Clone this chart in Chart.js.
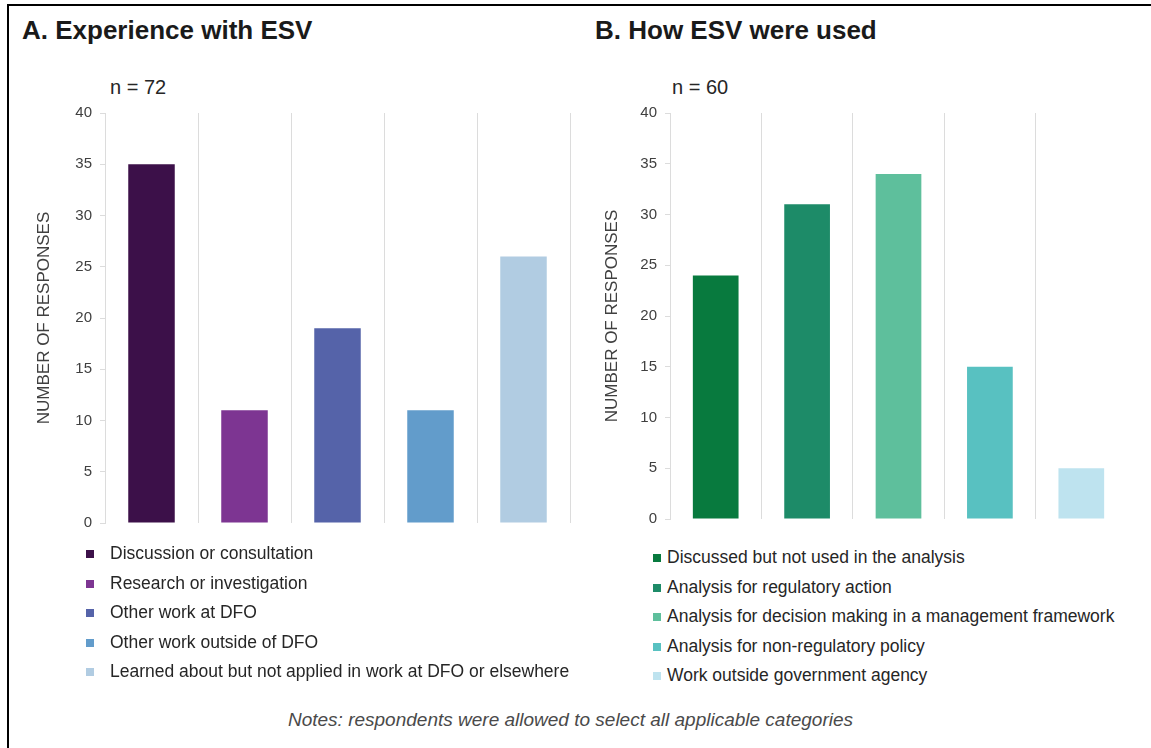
<!DOCTYPE html>
<html>
<head>
<meta charset="utf-8">
<script src="https://cdn.jsdelivr.net/npm/chart.js@4"></script>
<style>
    body { margin: 0; background: #fff; font-family: 'Liberation Sans', Arial, sans-serif; }
    .page { position: relative; width: 1151px; height: 748px; overflow: hidden; background: #fff; }
    .frame-top { position: absolute; left: 7px; top: 4px; width: 1144px; height: 2px; background: #000; }
    .frame-left { position: absolute; left: 7px; top: 4px; width: 2px; height: 744px; background: #000; }
    .title { position: absolute; font-weight: bold; font-size: 26px; color: #1a1a1a; line-height: 30px; white-space: nowrap; }
    .n-label { position: absolute; font-size: 20px; color: #262626; line-height: 22px; }
    .chart-box { position: absolute; }
    .legend { position: absolute; font-size: 17.5px; color: #262626; }
    .legend div { position: relative; height: 29.6px; line-height: 29.6px; white-space: nowrap; }
    .legend span.box { position: absolute; top: 11px; width: 8px; height: 8px; }
    .note { position: absolute; left: 0; width: 1141px; top: 708px; line-height: 24px; text-align: center; font-style: italic; font-size: 19px; color: #4a4a4a; }
</style>
</head>
<body>
<div class="page">
    <div class="frame-top"></div>
    <div class="frame-left"></div>

    <div class="title" style="left: 22px; top: 15px;">A. Experience with ESV</div>
    <div class="title" style="left: 595px; top: 15px;">B. How ESV were used</div>

    <div class="n-label" style="left: 110px; top: 76px;">n = 72</div>
    <div class="n-label" style="left: 672px; top: 76px;">n = 60</div>

    <div class="chart-box" style="left: 32px; top: 96px; width: 545px; height: 444px;">
        <canvas id="chartA"></canvas>
    </div>
    <div class="chart-box" style="left: 600px; top: 96px; width: 535px; height: 444px;">
        <canvas id="chartB"></canvas>
    </div>

    <div class="legend" id="legendA" style="left: 86px; top: 539px;"></div>
    <div class="legend" id="legendB" style="left: 653px; top: 543px;"></div>

    <div class="note">Notes: respondents were allowed to select all applicable categories</div>
</div>

<script>
// Panel A - experience with ESV
const expCategories = [
    'Discussion or consultation',
    'Research or investigation',
    'Other work at DFO',
    'Other work outside of DFO',
    'Learned about but not applied in work at DFO or elsewhere'
];
const expValues = [35, 11, 19, 11, 26];
const expColors = ['#3c1049', '#7d3592', '#5563a9', '#629ccb', '#b1cce2'];

// Panel B - how ESV were used
const useCategories = [
    'Discussed but not used in the analysis',
    'Analysis for regulatory action',
    'Analysis for decision making in a management framework',
    'Analysis for non-regulatory policy',
    'Work outside government agency'
];
const useValues = [24, 31, 34, 15, 5];
const useColors = ['#087a3e', '#1d8b68', '#5ebf9c', '#58c1c1', '#bee3ef'];

const yTicks = [0, 5, 10, 15, 20, 25, 30, 35, 40];

const fontFamily = "'Liberation Sans', Arial, sans-serif";
const gridColor = '#dcdcdc';

function makeChart(canvasId, labels, values, colors, axisWidth, padding, lastLine) {
    const ctx = document.getElementById(canvasId).getContext('2d');
    return new Chart(ctx, {
        type: 'bar',
        data: {
            labels: labels,
            datasets: [{
                data: values,
                backgroundColor: colors,
                borderWidth: 0,
                barPercentage: 0.5,
                categoryPercentage: 1
            }]
        },
        options: {
            responsive: true,
            maintainAspectRatio: false,
            animation: false,
            layout: { padding: padding },
            plugins: {
                legend: { display: false },
                tooltip: { enabled: false }
            },
            scales: {
                x: {
                    offset: true,
                    ticks: { display: false },
                    border: { display: false },
                    grid: {
                        offset: true,
                        drawTicks: false,
                        lineWidth: 1,
                        // the extra closing line has no tick index
                        color: (c) => (c.type !== 'tick' && !lastLine) ? 'rgba(0,0,0,0)' : gridColor
                    }
                },
                y: {
                    min: yTicks[0],
                    max: yTicks[yTicks.length - 1],
                    afterFit: (scale) => { scale.width = axisWidth; },
                    afterBuildTicks: (scale) => { scale.ticks = yTicks.map(v => ({ value: v })); },
                    ticks: {
                        padding: 8,
                        color: '#404040',
                        font: { family: fontFamily, size: 15 }
                    },
                    border: { display: true, color: gridColor },
                    grid: {
                        drawOnChartArea: false,
                        drawTicks: true,
                        tickLength: 5,
                        color: gridColor
                    },
                    title: {
                        display: true,
                        text: 'NUMBER OF RESPONSES',
                        color: '#404040',
                        padding: { top: 2, bottom: 0 },
                        font: { family: fontFamily, size: 17 }
                    }
                }
            }
        }
    });
}

function makeLegend(id, labels, colors, gap) {
    const box = document.getElementById(id);
    labels.forEach((label, i) => {
        const row = document.createElement('div');
        const sq = document.createElement('span');
        sq.className = 'box';
        sq.style.background = colors[i];
        row.appendChild(sq);
        const txt = document.createElement('span');
        txt.textContent = label;
        txt.style.marginLeft = gap + 'px';
        row.appendChild(txt);
        box.appendChild(row);
    });
}

makeChart('chartA', expCategories, expValues, expColors, 73, { top: 9, right: 7, bottom: 17, left: 0 }, true);
makeChart('chartB', useCategories, useValues, useColors, 70, { top: 9, right: 8, bottom: 21, left: 0 }, false);

makeLegend('legendA', expCategories, expColors, 24);
makeLegend('legendB', useCategories, useColors, 14);
</script>
</body>
</html>
